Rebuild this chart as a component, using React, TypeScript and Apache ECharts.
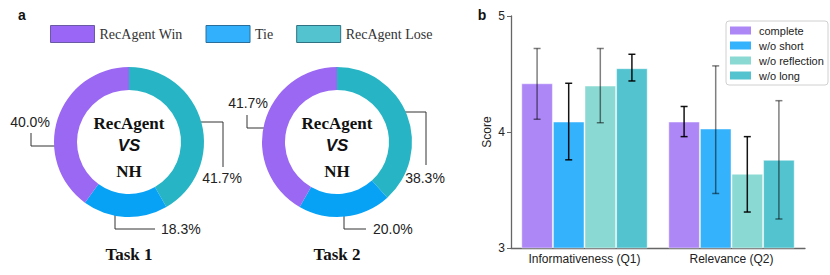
import React, { useEffect, useRef } from "react";
import * as echarts from "echarts";

// ---------- data ----------
const outcomeNames = ["RecAgent Win", "Tie", "RecAgent Lose"];
const taskNames = ["Task 1", "Task 2"];
const task1Pct = [40.0, 18.3, 41.7]; // win, tie, lose
const task2Pct = [41.7, 20.0, 38.3];

const categories = ["Informativeness (Q1)", "Relevance (Q2)"];
const seriesNames = ["complete", "w/o short", "w/o reflection", "w/o long"];
const scoreComplete = [4.42, 4.09];
const scoreShort = [4.09, 4.03];
const scoreReflection = [4.4, 3.64];
const scoreLong = [4.55, 3.76];
const errLow = [
  [4.11, 3.96],
  [3.76, 3.47],
  [4.08, 3.31],
  [4.44, 3.25],
];
const errHigh = [
  [4.72, 4.22],
  [4.42, 4.57],
  [4.72, 3.96],
  [4.67, 4.27],
];
const yTicks = [3, 4, 5];

// ---------- styles / layout ----------
const SERIF = "'Liberation Serif', 'Times New Roman', serif";
const SANS = "'Liberation Sans', Arial, sans-serif";
const pieColors = ["#9a68f2", "#07a2f6", "#27b5c5"]; // win, tie, lose
const legendFill = ["#9966f5", "#33b0fc", "#52c3cf"];
const legendBorder = ["#6a5aa6", "#2a6f9c", "#2e7283"];
const barColors = ["#ae87f7", "#35b2fc", "#8ad9d3", "#52c3cf"];
const errAlpha = [
  [0.5, 0.92],
  [0.92, 0.5],
  [0.5, 0.92],
  [0.92, 0.5],
];
const CAT_GAP = 0.14;
const pieCenters: [number, number][] = [
  [129, 142],
  [337, 142],
];
// annotation leader lines per task, order: win, tie, lose
type Ann = { pts: number[][]; tx: number; ty: number; align: string };
const annotations: Ann[][] = [
  [
    { pts: [[31, 133], [31, 146], [60, 146]], tx: 30, ty: 122, align: "center" },
    { pts: [[155, 229], [115, 229], [115, 205]], tx: 161, ty: 229, align: "left" },
    { pts: [[223, 167], [223, 122], [194, 122]], tx: 222, ty: 178, align: "center" },
  ],
  [
    { pts: [[247, 115], [247, 128], [277, 128]], tx: 248, ty: 103, align: "center" },
    { pts: [[366, 229], [344, 229], [344, 208]], tx: 373, ty: 229, align: "left" },
    { pts: [[426, 165], [426, 112], [397, 112]], tx: 425, ty: 178, align: "center" },
  ],
];

function arrowHead(pts: number[][]) {
  const [x1, y1] = pts[pts.length - 2];
  const [x2, y2] = pts[pts.length - 1];
  const len = Math.hypot(x2 - x1, y2 - y1) || 1;
  const ux = (x2 - x1) / len;
  const uy = (y2 - y1) / len;
  const L = 5;
  const W = 2;
  return [
    [x2, y2],
    [x2 - ux * L - uy * W, y2 - uy * L + ux * W],
    [x2 - ux * L + uy * W, y2 - uy * L - ux * W],
  ];
}

export default function App() {
  const ref = useRef<HTMLDivElement>(null);
  useEffect(() => {
    if (!ref.current) return;
    const chart = echarts.init(ref.current, null, { renderer: "svg" });
    const pcts = [task1Pct, task2Pct];
    const barValues = [scoreComplete, scoreShort, scoreReflection, scoreLong];

    const pieSeries = pcts.map((p, t) => ({
      type: "pie",
      name: taskNames[t],
      center: pieCenters[t],
      radius: [52, 75],
      startAngle: 90,
      clockwise: true,
      silent: true,
      label: { show: false },
      labelLine: { show: false },
      // draw lose, tie, win clockwise from top
      data: [2, 1, 0].map((k) => ({
        name: outcomeNames[k],
        value: p[k],
        itemStyle: { color: pieColors[k] },
      })),
    }));

    const barSeries = seriesNames.map((n, s) => ({
      type: "bar",
      name: n,
      data: barValues[s],
      barGap: "0%",
      barCategoryGap: CAT_GAP * 100 + "%",
      itemStyle: {
        color: barColors[s],
        borderColor: "rgba(255,255,255,0.45)",
        borderWidth: 1,
      },
      silent: true,
      z: 2,
    }));

    const errSeries = seriesNames.map((n, s) => ({
      type: "custom",
      name: n + " error",
      silent: true,
      z: 3,
      data: categories.map((_, i) => [i, errLow[s][i], errHigh[s][i]]),
      renderItem: (params: any, api: any) => {
        const cat = api.value(0);
        const lo = api.coord([cat, api.value(1)]);
        const hi = api.coord([cat, api.value(2)]);
        const band = api.size([1, 0])[0];
        const group = band * (1 - CAT_GAP);
        const bw = group / seriesNames.length;
        const x = lo[0] - group / 2 + bw * (s + 0.5);
        const cap = 3.5;
        const stroke = `rgba(0,0,0,${errAlpha[s][params.dataIndex]})`;
        const st = { stroke, lineWidth: 1.5 };
        return {
          type: "group",
          children: [
            { type: "line", shape: { x1: x, y1: lo[1], x2: x, y2: hi[1] }, style: st },
            { type: "line", shape: { x1: x - cap, y1: lo[1], x2: x + cap, y2: lo[1] }, style: st },
            { type: "line", shape: { x1: x - cap, y1: hi[1], x2: x + cap, y2: hi[1] }, style: st },
          ],
        };
      },
    }));

    const graphics: any[] = [];
    const txt = (x: number, y: number, text: string, font: string, align = "center", fill = "#111") => ({
      type: "text",
      x,
      y,
      silent: true,
      style: { text, font, fill, textAlign: align, textVerticalAlign: "middle" },
    });
    graphics.push(txt(22, 15, "a", `bold 14px ${SANS}`));
    graphics.push(txt(482, 15, "b", `bold 14px ${SANS}`));
    pieCenters.forEach(([cx], t) => {
      graphics.push(txt(cx, 123, "RecAgent", `bold 17px ${SERIF}`));
      graphics.push(txt(cx, 145, "VS", `italic 900 17px ${SANS}`));
      graphics.push(txt(cx, 171, "NH", `bold 17px ${SERIF}`));
      graphics.push(txt(cx, 254, taskNames[t], `bold 17px ${SERIF}`));
      annotations[t].forEach((a, k) => {
        graphics.push({
          type: "polyline",
          silent: true,
          shape: { points: a.pts },
          style: { stroke: "#333", lineWidth: 1, fill: null },
        });
        graphics.push({
          type: "polygon",
          silent: true,
          shape: { points: arrowHead(a.pts) },
          style: { fill: "#222" },
        });
        graphics.push(txt(a.tx, a.ty, pcts[t][k].toFixed(1) + "%", `14px ${SANS}`, a.align, "#222"));
      });
    });

    chart.setOption({
      animation: false,
      backgroundColor: "#fff",
      legend: [
        {
          left: 50,
          top: 25,
          padding: 0,
          itemWidth: 44,
          itemHeight: 17,
          itemGap: 23,
          selectedMode: false,
          textStyle: { fontFamily: SERIF, fontSize: 14, color: "#333" },
          data: outcomeNames.map((n, k) => ({
            name: n,
            icon: "rect",
            itemStyle: { color: legendFill[k], borderColor: legendBorder[k], borderWidth: 1 },
          })),
        },
        {
          left: 726,
          top: 21,
          orient: "vertical",
          padding: [4, 3, 4, 4],
          itemWidth: 21,
          itemHeight: 8,
          itemGap: 4,
          selectedMode: false,
          backgroundColor: "#fff",
          borderColor: "#d0d0d0",
          borderWidth: 1,
          borderRadius: 3,
          textStyle: {
            fontFamily: SANS,
            fontSize: 11,
            color: "#222",
            lineHeight: 11,
            padding: [0, 0, 0, 3],
            width: 66,
          },
          data: seriesNames.map((n, s) => ({
            name: n,
            icon: "rect",
            itemStyle: { color: barColors[s], borderWidth: 0 },
          })),
        },
      ],
      grid: { left: 511, right: 25, top: 16, bottom: 27, outerBoundsMode: "none", containLabel: false },
      xAxis: {
        type: "category",
        data: categories,
        axisLine: { lineStyle: { color: "#666", width: 1.3 } },
        axisTick: { alignWithLabel: true, length: 3, lineStyle: { color: "#666" } },
        axisLabel: { margin: 5, fontFamily: SANS, fontSize: 12, color: "#222" },
      },
      yAxis: {
        type: "value",
        min: yTicks[0],
        max: yTicks[yTicks.length - 1],
        interval: 1,
        name: "Score",
        nameLocation: "middle",
        nameGap: 18,
        nameTextStyle: { fontFamily: SANS, fontSize: 12, color: "#222" },
        splitLine: { show: false },
        axisLine: { show: true, lineStyle: { color: "#666", width: 1.3 } },
        axisTick: { show: true, length: 4, lineStyle: { color: "#666" } },
        axisLabel: { margin: 6, fontFamily: SANS, fontSize: 12, color: "#222" },
      },
      series: [...pieSeries, ...barSeries, ...errSeries],
      graphic: graphics,
    });
    return () => chart.dispose();
  }, []);
  return (
    <div
      ref={ref}
      style={{ position: "absolute", left: 0, top: 0, width: 830, height: 275 }}
    />
  );
}
